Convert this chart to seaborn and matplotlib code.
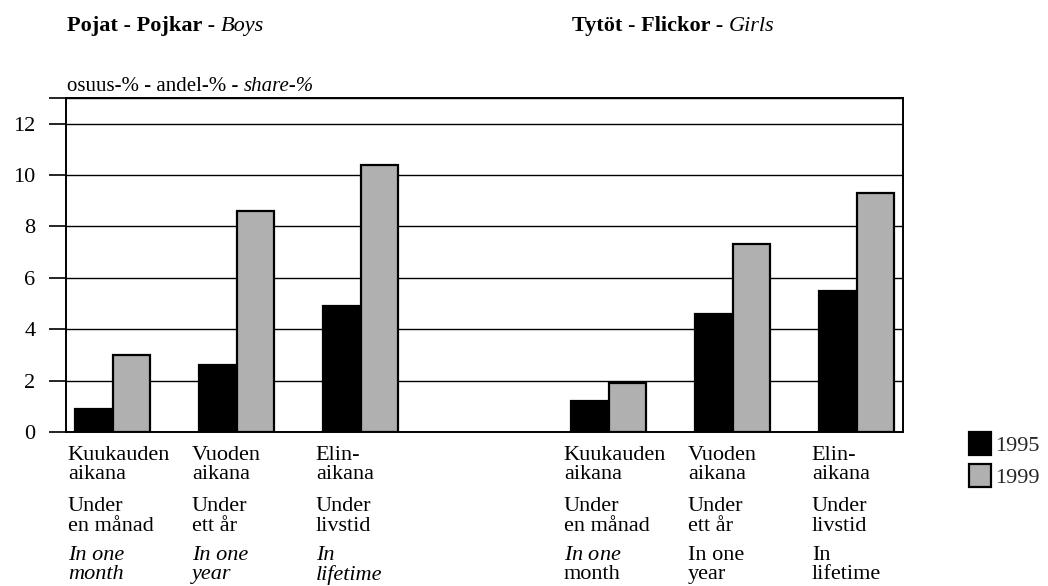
import matplotlib
matplotlib.use("Agg")
import matplotlib.pyplot as plt
import matplotlib.transforms as mtransforms
import seaborn as sns
import pandas as pd

# ---- data ----
categories = ["Boys month", "Boys year", "Boys lifetime", "_gap",
              "Girls month", "Girls year", "Girls lifetime"]
years = ["1995", "1999"]
boys_1995 = [0.9, 2.6, 4.9]
boys_1999 = [3.0, 8.6, 10.4]
girls_1995 = [1.2, 4.6, 5.5]
girls_1999 = [1.9, 7.3, 9.3]

fi_labels = ["Kuukauden\naikana", "Vuoden\naikana", "Elin-\naikana"]
sv_labels = ["Under\nen månad", "Under\nett år", "Under\nlivstid"]
en_labels_boys = ["In one\nmonth", "In one\nyear", "In\nlifetime"]
en_labels_girls = [r"$\mathit{In\ one}$" + "\nmonth", "In one\nyear", "In\nlifetime"]
en_italic_boys = [True, True, True]
en_italic_girls = [False, False, False]

yticks = [0, 2, 4, 6, 8, 10, 12, 13]
ytick_labels = ["0", "2", "4", "6", "8", "10", "12", ""]

title_boys = ("Pojat - Pojkar - ", "Boys")
title_girls = ("Tytöt - Flickor - ", "Girls")
unit_label = ("osuus-% - andel-% - ", "share-%")

# ---- build long table ----
rows = []
for cat, v95, v99 in zip(categories[:3], boys_1995, boys_1999):
    rows.append((cat, "1995", v95))
    rows.append((cat, "1999", v99))
for cat, v95, v99 in zip(categories[4:], girls_1995, girls_1999):
    rows.append((cat, "1995", v95))
    rows.append((cat, "1999", v99))
df = pd.DataFrame(rows, columns=["category", "year", "value"])

sns.set_theme(style="white")
plt.rcParams["font.family"] = ["Liberation Serif", "DejaVu Serif"]
plt.rcParams["mathtext.fontset"] = "custom"
plt.rcParams["mathtext.rm"] = "Liberation Serif"
plt.rcParams["mathtext.it"] = "Liberation Serif:italic"

fig = plt.figure(figsize=(10.48, 5.86), dpi=100)
W, H = 1048, 586
ax = fig.add_axes([66 / W, 1 - 432 / H, (903 - 66) / W, (432 - 98) / H])

palette = {"1995": "black", "1999": "#b0b0b0"}
sns.barplot(data=df, x="category", y="value", hue="year", order=categories,
            hue_order=years, palette=palette, width=0.6, edgecolor="black",
            linewidth=1.6, saturation=1, ax=ax, errorbar=None)

ax.set_xlim(-0.375, 6.375)
ax.set_ylim(0, 13)
ax.set_yticks(yticks)
ax.set_yticklabels(ytick_labels)
ax.set_xticks(range(len(categories)))
ax.set_xticklabels([""] * len(categories))
ax.set_xlabel("")
ax.set_ylabel("")
ax.tick_params(axis="y", length=12, width=1.2, direction="out", pad=10,
               labelsize=16, colors="black", left=True)
ax.tick_params(axis="x", length=0)
ax.yaxis.grid(True, color="black", linewidth=1.0)
ax.set_axisbelow(True)
for sp in ax.spines.values():
    sp.set_color("black")
    sp.set_linewidth(1.4)
    sp.set_visible(True)

# ---- category labels below axis ----
fs = 16
block_top_pt = [10.0, 47.0, 82.0]  # block tops below axis (points)
base = ax.get_xaxis_transform()
dx = -0.36

def put(xc, block_idx, txt, italic):
    tr = mtransforms.offset_copy(base, fig=fig, x=0, y=-block_top_pt[block_idx], units="points")
    ax.text(xc + dx, 0, txt, transform=tr, ha="left", va="top",
            fontsize=fs, fontstyle="italic" if italic else "normal",
            linespacing=1.04, color="black", clip_on=False)

group_pos = [[0, 1, 2], [4, 5, 6]]
for g, positions in enumerate(group_pos):
    en_l = en_labels_boys if g == 0 else en_labels_girls
    flags = en_italic_boys if g == 0 else en_italic_girls
    for i, xc in enumerate(positions):
        put(xc, 0, fi_labels[i], False)
        put(xc, 1, sv_labels[i], False)
        put(xc, 2, en_l[i], flags[i])

# ---- titles ----
def mixed(x, y, parts, bold_first, size):
    t1 = fig.text(x / W, 1 - y / H, parts[0], fontsize=size,
                  fontweight="bold" if bold_first else "normal",
                  ha="left", va="baseline", color="black")
    ax.annotate(parts[1], xy=(1, 0), xycoords=t1, ha="left", va="bottom",
                fontsize=size, fontstyle="italic", color="black",
                annotation_clip=False)

mixed(67, 31, title_boys, True, 16)
mixed(572, 31, title_girls, True, 16)
mixed(67, 91, unit_label, False, 15)

# ---- legend ----
sns.move_legend(ax, loc="center left", bbox_to_anchor=(960 / W, 1 - 460 / H),
                bbox_transform=fig.transFigure, frameon=False, title=None,
                fontsize=16, handlelength=1.0, handleheight=1.2,
                handletextpad=0.2, labelspacing=0.35, borderaxespad=0)

fig.savefig("out.png", dpi=100, facecolor="white")
